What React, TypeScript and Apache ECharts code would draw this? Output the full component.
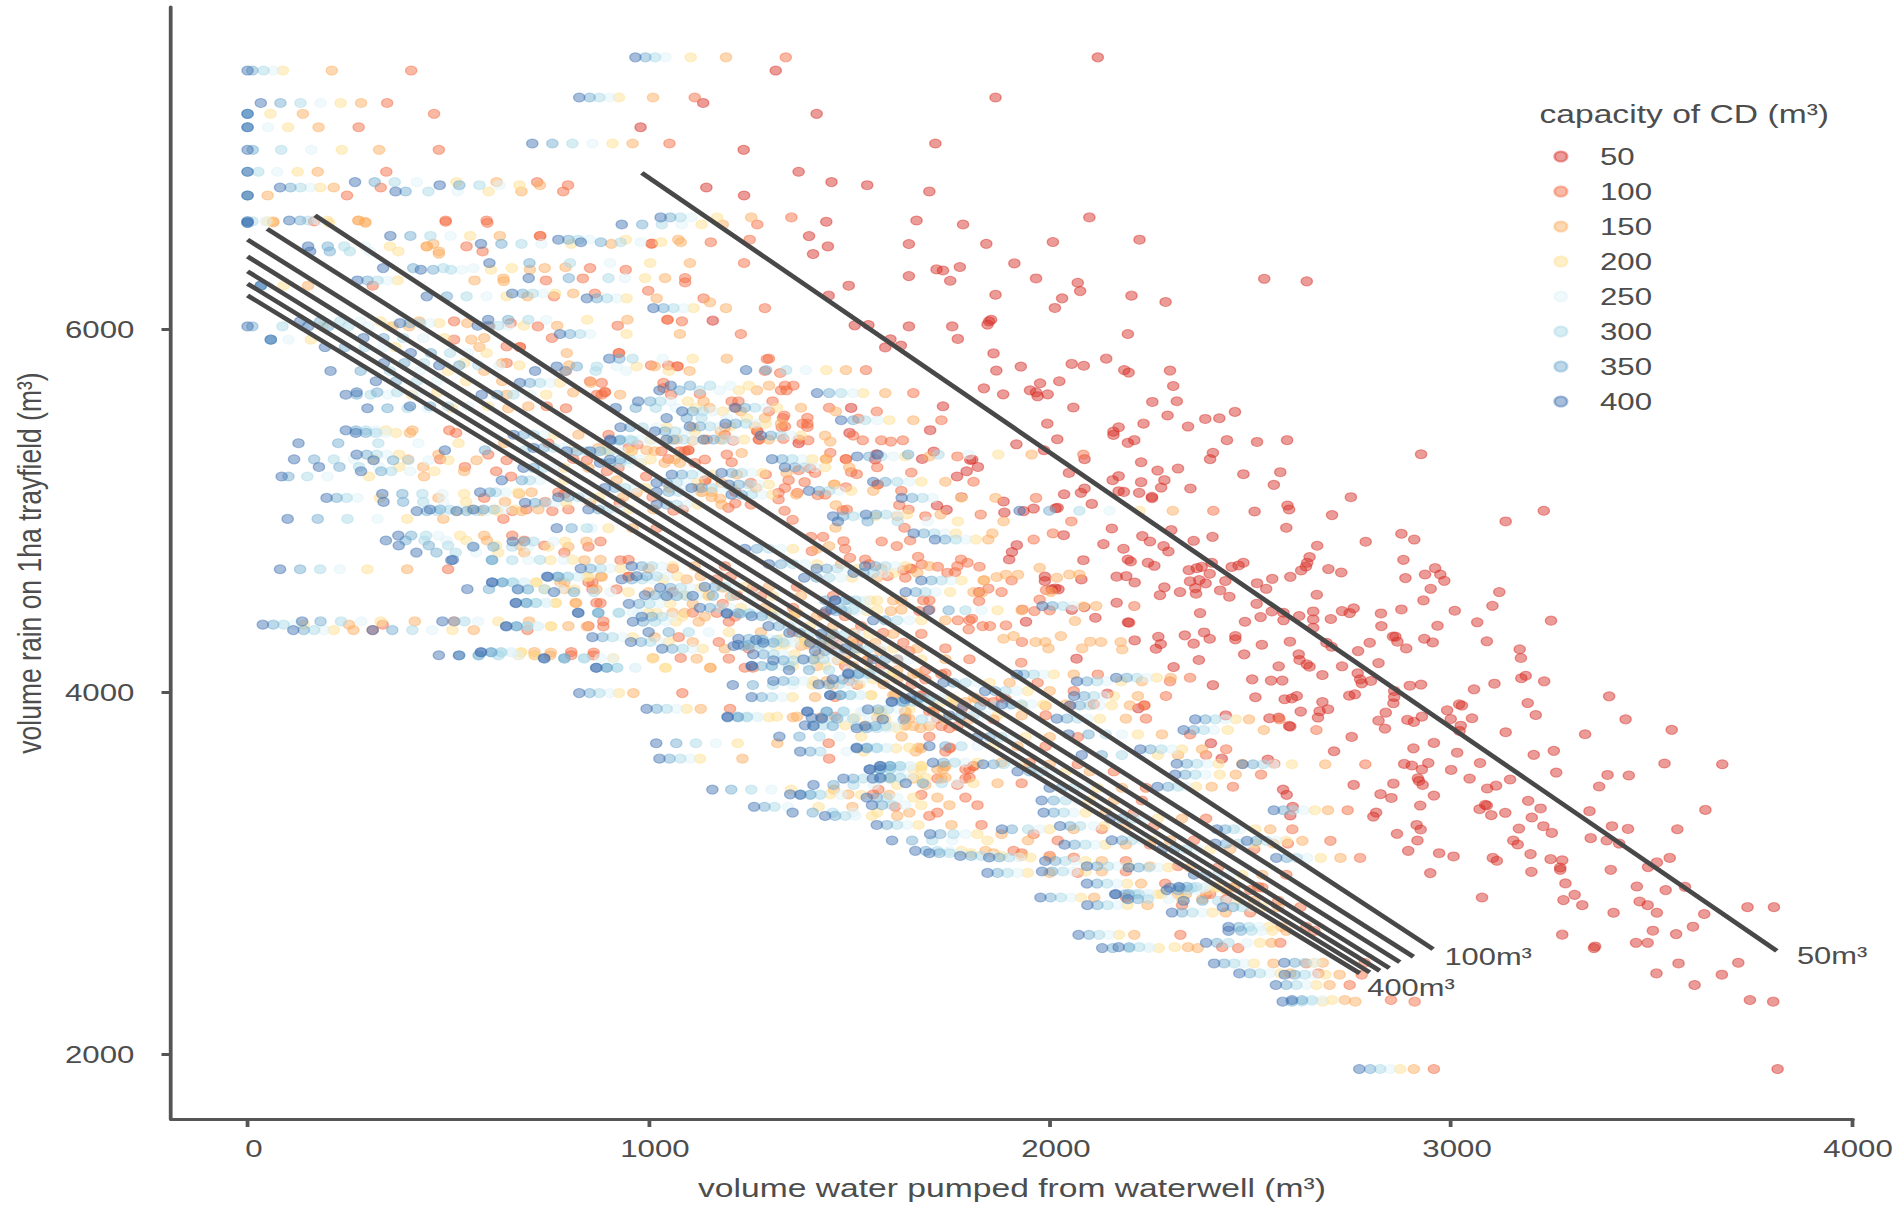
import React, { useEffect, useRef } from "react";
import * as echarts from "echarts";

const capacities = ["50", "100", "150", "200", "250", "300", "350", "400"];
const colors = ["#d73027", "#f46d43", "#fdae61", "#fee090", "#e0f3f8", "#abd9e9", "#74add1", "#4575b4"];
const xTicks = [0, 1000, 2000, 3000, 4000];
const yTicks = [2000, 4000, 6000];

// Each row: [rain volume, pumped volume for 400, 350, 300, 250, 200, 150, 100 m3]
const rowsUpper: number[][] = [
  [7504,967,992,1016,1042,1105,1193,1342],[7431,0,12,40,64,88,210,408],[7282,827,853,877,903,926,1011,1115],
  [7252,33,82,132,182,232,283,348],[7192,0,0,0,0,57,138,465],[7118,0,0,0,51,101,177,277],[7028,710,760,810,860,910,960,1052],
  [6993,0,13,84,159,235,328,477],[6872,0,0,27,74,125,175,346],[6815,268,317,367,422,521,621,722],[6798,479,528,578,628,678,729,799],
  [6785,81,107,132,157,181,215,332],[6763,369,394,451,524,601,683,787],[6741,0,0,0,0,0,50,248],[6620,1030,1054,1079,1107,1171,1256,1356],
  [6598,0,0,12,45,50,64,166],[6603,104,131,151,176,199,277,494],[6590,0,0,0,0,203,294,598],[6581,933,984,1033,1083,1132,1185,1271],
  [6518,356,406,456,506,555,629,730],[6497,775,800,825,852,943,1074,1252],[6483,831,881,930,980,1031,1080,1155],[6474,582,633,683,733,807,907,1007],
  [6460,151,200,241,293,355,447,546],[6432,156,205,255,305,376,477,586],[6368,603,703,804,904,1004,1103,1238],[6340,338,413,488,563,659,741,854],
  [6331,432,463,507,534,607,704,943],[6285,701,801,900,941,991,1041,1091],[6272,274,299,324,349,374,566,744],[6200,660,686,711,736,767,812,866],
  [6184,447,497,546,596,646,698,764],[6173,846,871,896,920,945,1020,1137],[6119,1012,1037,1062,1087,1112,1193,1290],[6243,33,33,33,50,90,151,312],
  [6046,131,181,231,281,331,428,515],[6018,151,201,251,301,352,403,603],[6036,380,405,430,455,478,548,656],[6018,0,12,87,137,187,362,724],
  [6055,600,650,700,745,847,947,1047],[6022,574,600,625,650,689,772,923],[5976,779,804,829,854,945,1078,1230],[5945,58,58,58,102,158,558,515],
  [5904,193,243,293,339,368,578,679],[5954,289,339,388,438,491,590,759],[5871,407,457,505,550,596,796,926],[5816,340,391,440,490,540,635,646],
  [5803,478,528,575,628,678,802,1006],[5772,207,282,355,430,500,590,794],[5772,717,792,868,944,1050,1102,1290],[5797,771,821,871,921,970,1015,1072],
  [5840,902,927,960,1035,1110,1195,1300],[5706,679,704,729,754,779,856,1037],[5715,320,370,422,472,545,635,854],[5641,245,272,307,350,410,646,883],
  [5654,272,323,373,423,473,812,891],[5641,584,622,663,705,745,929,1056],[5566,299,349,399,449,510,650,794],[5577,405,455,500,550,600,700,746],
  [5604,974,1004,1029,1054,1098,1137,1207],[5568,918,968,1018,1068,1118,1152,1218],[5691,1055,1103,1153,1203,1250,1300,1340],[5665,1027,1077,1127,1177,1225,1270,1330],
];

const rowsMiddle: number[][] = [
  [5512,1045,1095,1132,1195,1245,1290,1335],[5549,1084,1110,1135,1160,1185,1230,1300],[5481,1192,1217,1242,1267,1292,1330,1396],[5461,930,954,985,1020,1045,1110,1190],
  [5439,1016,1041,1066,1090,1115,1180,1271],[5387,905,927,960,1005,1050,1110,1211],[5393,1045,1062,1087,1112,1137,1180,1275],[5444,245,270,295,320,345,411,503],
  [5430,270,295,320,345,370,405,520],[5373,127,226,326,426,526,640,750],[5284,116,166,215,265,315,400,480],[5310,272,297,322,347,378,476,600],
  [5242,178,229,278,328,378,438,542],[5279,314,363,401,451,501,571,646],[5189,85,102,149,199,303,440,657],[5218,283,333,358,405,466,540,620],
  [5334,492,592,692,792,890,995,1099],[5168,634,684,704,729,790,920,1141],[5071,197,222,247,274,330,476,590],[5093,336,386,436,486,540,677,790],
  [5049,339,388,438,488,545,642,742],[5102,580,604,619,644,675,708,775],[5104,1020,1050,1075,1105,1130,1157,1216],[5285,1308,1333,1358,1383,1408,1443,1492],
  [5310,1571,1647,1723,1798,1872,1955,2084],[5071,1631,1657,1683,1708,1779,1865,1966],[4979,1542,1567,1592,1620,1644,1728,1828],[4941,1472,1546,1621,1696,1771,1885,2054],
  [4875,1661,1686,1712,1738,1766,1857,2008],[4841,1714,1739,1766,1791,1816,1847,1960],[4474,1982,2007,2033,2058,2083,2116,2211],[5000,1925,1999,2074,2149,2224,2307,2408],
  [5777,1243,1293,1343,1392,1443,1492,1542],[5145,1200,1225,1250,1275,1300,1463,1571],[4955,100,175,249,324,398,488,638],[4863,376,408,445,476,530,590,660],
  [4836,345,394,441,496,546,597,690],[4808,377,452,500,560,620,680,740],[4769,421,471,519,570,625,690,790],[4727,508,610,660,700,755,840,930],
  [4677,81,131,181,230,299,398,500],[4567,548,602,675,699,741,790,860],[4605,610,636,662,690,720,780,850],[4490,669,695,719,745,768,819,880],
  [4635,749,775,799,825,849,883,950],[4436,825,875,925,975,1020,1090,1170],[4371,38,64,90,116,140,253,337],[4389,136,182,233,283,332,417,515],
  [4341,114,140,166,190,215,264,312],[4341,312,361,411,460,511,564,698],[4389,486,515,541,575,625,702,887],[4361,645,671,697,725,757,846,887],
  [4202,477,528,577,627,677,716,807],[4217,582,608,633,659,682,756,863],[4187,739,790,839,880,912,1011,1080],[4133,870,895,922,967,1042,1154,1240],
  [3993,827,853,877,903,926,962,1084],[3906,995,1020,1045,1070,1095,1130,1203],[3716,1019,1069,1118,1168,1222,1321,1449],[3631,1027,1052,1079,1104,1128,1234,1450],
  [4904,771,808,846,858,900,960,1020],[4830,661,690,713,763,792,845,880],[4801,563,613,660,700,750,800,850],[4729,512,609,729,788,811,880,950],
  [4681,831,855,880,905,930,1000,1060],[4637,747,773,798,823,847,881,950],[4604,610,635,660,690,720,790,860],[4566,674,699,740,780,815,870,920],
  [4551,764,814,864,905,950,1000,1060],[4492,669,695,719,744,769,818,870],[4437,824,874,927,960,1000,1060,1110],[4363,645,670,698,723,756,800,850],
  [4302,860,885,910,935,960,1015,1075],[4275,956,981,1004,1028,1050,1110,1175],[4238,1034,1059,1085,1110,1135,1190,1250],[4534,991,1016,1040,1065,1090,1150,1220],
  [4220,582,607,632,657,682,715,807],[4201,527,576,625,675,717,754,862],[4183,740,790,840,911,1010,1120,1200],[4133,869,896,921,967,1042,1154,1260],
];

const rowsLower: number[][] = [
  [4038,1210,1260,1310,1360,1409,1459,1520],[3971,1257,1282,1307,1334,1359,1415,1465],[3863,1197,1222,1245,1270,1320,1370,1465],[4060,1311,1336,1361,1386,1411,1444,1500],
  [3753,1326,1376,1426,1476,1530,1631,1700],[3892,1396,1444,1486,1530,1580,1640,1700],[3815,1390,1411,1436,1461,1490,1540,1640],[3857,1407,1432,1457,1485,1515,1570,1640],
  [3692,1519,1544,1569,1594,1650,1673,1752],[3670,1378,1403,1428,1494,1536,1666,1740],[3572,1552,1577,1602,1627,1679,1734,1800],[3521,1559,1577,1602,1631,1670,1730,1790],
  [3521,1486,1510,1535,1560,1600,1660,1720],[3486,1411,1461,1511,1561,1620,1690,1770],[3495,1641,1684,1731,1770,1810,1870,1930],[3460,1159,1206,1256,1306,1355,1462,1573],
  [3365,1263,1289,1314,1347,1424,1508,1615],[3434,1353,1379,1405,1429,1453,1498,1560],[3333,1359,1409,1459,1510,1570,1650,1720],[3416,1544,1569,1594,1620,1660,1720,1790],
  [3374,1557,1582,1607,1640,1680,1750,1820],[2658,2072,2098,2123,2148,2173,2211,2326],[2585,2131,2157,2198,2247,2272,2369,2470],[2590,2172,2198,2223,2248,2312,2345,2430],
  [2864,1977,2002,2028,2053,2078,2111,2190],[2822,2094,2119,2144,2169,2194,2244,2330],[2941,2093,2118,2143,2168,2193,2228,2288],[3000,1845,1870,1895,1920,1945,2000,2070],
  [3008,1981,2006,2033,2060,2090,2130,2190],[2883,2165,2197,2222,2250,2280,2340,2400],[2855,2195,2220,2245,2297,2330,2380,2440],[2781,2305,2330,2356,2381,2406,2439,2500],
  [2905,2292,2320,2345,2370,2395,2440,2500],[2923,2322,2342,2365,2390,2415,2460,2520],[2846,2334,2381,2420,2445,2470,2510,2570],[2811,2432,2457,2480,2505,2530,2570,2625],
  [2702,2446,2472,2497,2522,2547,2578,2640],[2680,2446,2477,2503,2528,2555,2590,2660],[2614,2390,2417,2446,2492,2524,2553,2575],[2500,2410,2435,2460,2485,2509,2558,2640],
  [2445,2473,2499,2524,2548,2575,2600,2670],[3346,2559,2583,2607,2633,2661,2694,2743],[3083,2565,2591,2616,2642,2676,2725,2774],[2504,2585,2611,2636,2661,2660,2681,2785],
  [2438,2586,2611,2636,2660,2687,2723,2778],[2381,2564,2590,2615,2640,2665,2698,2748],[2298,2604,2629,2654,2679,2704,2736,2851],[2289,2581,2604,2629,2654,2681,2762,2910],
  [1917,2772,2799,2824,2849,2874,2908,2958],[4078,2166,2192,2217,2242,2267,2302,2350],[3848,2363,2388,2413,2438,2464,2497,2573],[3789,2334,2359,2384,2409,2444,2534,2665],
  [3603,2317,2342,2367,2392,2421,2480,2560],[3600,2481,2507,2532,2557,2604,2687,2787],[3543,2313,2338,2363,2388,2424,2464,2527],[3476,2269,2295,2320,2340,2365,2404,2457],
  [3241,2417,2438,2459,2475,2513,2550,2605],[3162,2413,2440,2470,2492,2513,2558,2594],[3177,2492,2515,2540,2565,2590,2630,2700],[3030,2197,2222,2247,2270,2296,2350,2420],
  [2882,2163,2188,2213,2240,2270,2320,2390],[2919,2300,2325,2355,2385,2415,2460,2530],[4058,2068,2093,2118,2143,2178,2230,2300],[3977,2061,2086,2110,2135,2160,2220,2290],
  [3852,2018,2043,2070,2095,2125,2190,2240],[3683,2226,2251,2278,2305,2330,2380,2440],[3651,2080,2130,2180,2225,2270,2320,2390],[3609,1709,1735,1763,1790,1820,1880,1950],
  [3600,1834,1860,1885,1912,1940,2000,2070],[3590,1578,1602,1627,1652,1680,1740,1810],[3572,1551,1577,1602,1627,1660,1720,1790],[3526,1578,1602,1627,1652,1690,1740,1800],
  [3431,1378,1403,1428,1480,1530,1600,1680],[3315,1440,1465,1490,1515,1557,1620,1700],[3265,1569,1594,1619,1644,1673,1755,1830],[3333,1985,2010,2035,2060,2090,2140,2210],
  [3259,2026,2051,2076,2110,2136,2190,2260],[3241,1881,1906,1946,1975,2000,2060,2130],[3214,1702,1727,1760,1790,1820,1880,1960],[3179,1607,1657,1707,1757,1845,1946,2020],
  [3122,1665,1691,1720,1750,1780,1840,1910],[3109,1700,1725,1750,1777,1804,1860,1930],[3094,1777,1804,1829,1855,1880,1930,2000],[3085,1849,1874,1899,1924,1952,2000,2060],
  [3066,1989,2014,2039,2064,2089,2130,2190],[3156,2037,2062,2089,2114,2139,2190,2250],[3180,2155,2180,2205,2230,2255,2300,2360],[3037,2093,2118,2145,2170,2197,2250,2320],
];

const rowsBand: number[][] = [
  [4435,1195,1223,1251,1284,1315,1370,1440],[3859,1197,1223,1245,1273,1300,1360,1430],[4287,1268,1284,1320,1350,1380,1440,1510],[4260,1223,1250,1280,1310,1340,1400,1470],
  [4144,1257,1307,1350,1400,1440,1510,1580],[3982,1453,1478,1503,1528,1555,1610,1680],[3890,1396,1444,1486,1536,1572,1640,1710],[3903,1547,1572,1596,1625,1650,1710,1780],
  [3811,1411,1459,1519,1565,1600,1660,1730],[3852,1432,1470,1510,1550,1590,1650,1720],[3848,1584,1636,1681,1706,1740,1800,1860],[4102,1498,1523,1550,1580,1610,1670,1740],
  [3944,1607,1637,1670,1700,1730,1790,1860],[4050,1735,1760,1790,1820,1850,1900,1970],[4004,1839,1864,1890,1918,1945,2000,2060],[4096,1918,1935,1960,1985,2010,2060,2120],
  [3931,1881,1905,1930,1955,1985,2040,2110],[3922,1785,1827,1860,1895,1930,1990,2050],[3925,2051,2075,2100,2125,2155,2200,2236],[3765,2047,2097,2140,2180,2220,2280,2350],
  [3688,1519,1544,1569,1592,1617,1680,1750],[4454,1456,1480,1510,1540,1570,1630,1700],[4505,1465,1490,1515,1540,1570,1630,1700],[4630,1388,1419,1450,1480,1507,1570,1640],
  [4694,1540,1565,1590,1616,1640,1700,1770],[4551,1641,1666,1690,1715,1752,1810,1880],[4450,1698,1748,1790,1830,1870,1930,2000],[4395,1560,1590,1620,1650,1680,1740,1800],
  [5569,1215,1240,1265,1290,1320,1380,1450],[5415,1280,1305,1330,1355,1380,1440,1510],[5240,1340,1365,1390,1415,1440,1500,1570],[5110,1400,1425,1450,1475,1505,1560,1630],
  [4970,1460,1485,1510,1535,1565,1620,1690],[4790,1240,1270,1300,1330,1360,1420,1490],[4705,1300,1330,1360,1390,1420,1480,1550],[4580,1140,1165,1190,1215,1240,1300,1370],
  [4530,1110,1160,1210,1260,1310,1380,1460],[4330,1000,1050,1100,1150,1200,1280,1360],[4320,1430,1460,1490,1520,1550,1610,1680],[4240,1490,1520,1550,1580,1610,1670,1740],
  [4180,1560,1590,1620,1650,1680,1740,1800],[4120,1350,1400,1450,1500,1550,1620,1690],[3960,1640,1670,1700,1730,1760,1820,1890],[3870,1750,1780,1810,1840,1870,1930,1990],
  [3750,1820,1850,1880,1910,1940,2000,2070],[3700,1700,1740,1780,1820,1860,1920,1990],[3560,1920,1950,1980,2010,2040,2100,2160],[3470,2000,2030,2060,2090,2120,2180,2240],
  [3400,1980,2010,2040,2070,2100,2160,2230],[3300,2150,2180,2210,2240,2270,2330,2390],[3130,2280,2310,2340,2370,2400,2450,2510],[2990,2360,2390,2420,2450,2480,2530,2590],
  [5650,1420,1450,1480,1510,1535,1590,1660],[5500,1480,1510,1540,1570,1600,1660,1730],[5300,1520,1550,1580,1610,1640,1700,1770],[5160,1560,1590,1620,1650,1680,1740,1810],
];

const rowsDense: number[][] = [
  [4694,958,983,1008,1033,1060,1115,1190],[4639,970,995,1020,1046,1072,1130,1205],[4621,933,958,984,1010,1036,1095,1170],[4575,1029,1054,1080,1105,1130,1185,1260],
  [4529,1045,1070,1095,1120,1148,1205,1280],[4486,951,976,1002,1028,1054,1110,1185],[4415,983,1008,1033,1058,1084,1140,1215],[4387,961,986,1016,1042,1068,1125,1200],
  [4464,1128,1153,1178,1203,1230,1290,1360],[4431,1195,1228,1253,1278,1305,1365,1435],[4418,1257,1282,1307,1332,1360,1420,1490],[4363,1299,1324,1350,1376,1402,1460,1530],
  [4326,1351,1376,1402,1428,1454,1512,1585],[4293,1224,1250,1276,1302,1330,1390,1460],[4271,1286,1311,1336,1361,1390,1450,1520],[4271,1403,1428,1453,1478,1505,1565,1635],
  [4225,1415,1440,1465,1490,1518,1578,1650],[4253,1212,1238,1264,1290,1318,1380,1450],[4207,1261,1286,1311,1336,1364,1424,1495],[4174,1311,1336,1361,1386,1413,1472,1545],
  [4142,1257,1282,1307,1332,1360,1420,1490],[4179,1386,1411,1436,1461,1488,1548,1620],[4505,1465,1441,1500,1525,1552,1610,1685],[4446,1442,1467,1492,1517,1544,1604,1675],
  [4657,1511,1536,1561,1586,1612,1670,1745],[4681,1419,1444,1470,1496,1522,1580,1655],[4615,1680,1705,1730,1755,1780,1835,1905],[4097,1498,1523,1548,1573,1600,1660,1730],
  [4069,1459,1484,1509,1534,1560,1620,1690],[4041,1424,1449,1474,1499,1526,1586,1656],[3946,1606,1631,1656,1681,1708,1766,1836],[3968,1652,1677,1702,1727,1754,1812,1880],
  [3981,1453,1478,1503,1528,1555,1615,1685],[3799,1519,1544,1569,1594,1620,1678,1750],[3811,1540,1565,1590,1615,1642,1700,1770],[3591,1577,1602,1627,1652,1680,1738,1810],
  [5393,904,929,954,979,1006,1070,1145],[5466,1103,1128,1153,1178,1204,1265,1340],[5393,1137,1162,1187,1212,1238,1300,1375],[5126,891,916,941,966,992,1052,1125],
  [5154,1020,1045,1070,1095,1122,1182,1255],[5200,1058,1083,1108,1133,1160,1220,1292],[5126,1107,1132,1157,1182,1208,1268,1340],[5209,1182,1207,1232,1257,1284,1344,1415],
  [5089,1207,1232,1257,1282,1308,1368,1440],[5034,1020,1045,1070,1095,1122,1182,1255],[5007,850,875,900,925,952,1012,1085],[5075,775,800,825,850,876,936,1010],
  [5044,692,717,742,767,794,854,928],[5007,563,588,613,638,665,725,800],[4998,521,546,571,596,623,683,760],[5007,455,480,505,530,557,617,695],
  [4998,422,447,472,497,524,584,660],[5283,904,929,954,979,1005,1065,1140],[5264,879,904,929,954,980,1040,1115],[5237,688,713,738,763,790,850,925],
  [5420,663,688,713,738,765,825,900],[5347,713,738,763,788,815,875,950],[5329,796,821,846,871,898,958,1032],[5329,854,879,904,929,955,1015,1090],
];

const extra150: number[][] = [
  [1467,5548],[1453,5382],[1442,5286],[1463,5145],[1467,5031],[1466,4906],[1450,4805],[1837,4617],[1868,4634],[1891,4647],[1921,4647],[1975,4685],[2018,4630],[2049,4648],[2074,4648],
  [1831,4547],[2003,4551],[2063,4391],[1965,4275],[1989,4275],[2028,4308],[2101,4277],[2128,4275],[2177,4275],[2181,4234],[1997,4240],[2081,4240],[1885,4293],[1910,4308],
  [276,6603],[293,6596],[64,6592],[463,6474],[447,6460],[477,6419],[793,6345],[638,6283],[639,6268],[1153,6151],[1232,5319],[1078,5264],[1157,5075],[1178,5067],[970,5099],
];
const extra100: number[][] = [
  [1295,5838],[1328,5761],[1361,5691],[1344,5665],[1309,5605],[1338,5526],[1569,5548],[1523,5509],[1396,5513],[1384,5481],[1396,5463],[1332,5461],[1271,5439],[1336,5397],[1398,5389],
  [1275,5393],[1534,5389],[1580,5389],[1604,5382],[1634,5389],[1453,5320],[1492,5286],[1403,5233],[1374,5224],[1505,5213],[1519,5202],[1655,5211],[1571,5145],[1492,5130],[1389,5158],
  [1349,5169],[1422,5086],[1371,5099],[1324,5099],[1324,5062],[1484,5003],[1494,5007],[1339,5000],[1359,4950],[1405,4856],[1435,4856],[1486,4832],[1581,4830],[1619,4805],[1638,4906],
  [1652,4836],[1625,5031],[1648,5007],[1672,4746],[1681,4704],[1721,4691],[1779,4731],[1795,4713],[1825,4691],[1764,4661],[1635,4672],[1652,4680],[1596,4639],[1540,4731],[1502,4740],
  [1407,4777],[1847,4570],[1991,4562],[1824,4501],[1975,4510],[1932,4455],[1962,4446],[1771,4395],[1798,4345],[1806,4404],[1833,4363],[1851,4363],[1891,4367],[1931,4275],[1929,4161],
  [494,6596],[596,6603],[729,6517],[1008,6476],[836,6283],[1091,6261],[999,6215],[1083,6046],[1047,6055],[646,5908],[679,5904],[926,5871],[1049,5803],[1072,5798],[883,5706],[891,5656],
  [871,5641],[1037,5678],[1128,5645],[1224,5604],[1190,5420],[972,5365],[1099,5334],[1078,5329],[1049,5286],[1195,5310],[1207,5268],[994,5190],[896,5218],[846,5279],[812,5286],[1141,5167],
  [1132,5104],[1216,5040],[1199,5016],[1062,5000],[2236,3925],
];

const cap50: number[][] = [
  [2120,7504],[1317,7431],[1865,7282],[1136,7252],[1419,7192],[980,7118],[1715,7028],[1237,6993],[1374,6872],[1456,6815],[1545,6798],[1144,6785],[1700,6763],[1238,6741],[2099,6620],[1668,6603],
  [1443,6596],[1784,6581],[1400,6517],[2224,6497],[2008,6484],[1842,6474],[1649,6473],[1447,6460],[1410,6418],[1912,6366],[1718,6333],[1734,6327],[1776,6346],[1966,6283],[1649,6296],[1752,6270],
  [2070,6259],[2076,6213],[2535,6281],[2641,6267],[1499,6243],[1865,6193],[2204,6188],[2031,6173],[2289,6153],[2013,6120],[1449,6188],[1160,6050],[1548,6026],[1649,6018],[1514,6024],[1757,6018],
  [1849,6046],[1854,6055],[1845,6028],[2195,5976],[1771,5949],[1603,5947],[1629,5912],[1590,5902],[1860,5869],[2141,5840],[2055,5811],[2085,5801],[1928,5796],[1867,5774],[2186,5777],[2197,5763],
  [2300,5774],[1976,5704],[2024,5715],[2308,5689],[1836,5676],[1951,5665],[1966,5654],[1970,5632],[1995,5643],[1884,5643],[2317,5605],[2256,5601],[1734,5577],[2059,5570],[2294,5526],[2388,5507],
  [2423,5511],[2462,5546],[1505,5568],[2345,5465],[2234,5481],[2172,5461],[2159,5437],[2159,5419],[1994,5481],[2211,5390],[2195,5375],[2019,5395],[1917,5367],[1702,5445],[1501,5430],[2442,5390],
  [2517,5380],[2592,5390],[2926,5312],[2407,5320],[2400,5285],[2087,5285],[2228,5268],[2269,5222],[2320,5233],[2483,5202],[2575,5213],[2048,5209],[2172,5191],[2157,5169],[2228,5158],[2286,5169],
  [2559,5143],[2278,5128],[2351,5123],[2223,5099],[2172,5108],[2185,5104],[2087,5123],[2078,5099],[2036,5091],[2255,5077],[2255,5070],[2751,5075],[1986,5334],[1568,5312],[1565,5283],[1711,5327],
  [1682,5286],[1802,5281],[1807,5283],[1821,5242],[1793,5218],[1769,5189],[1780,5075],[1374,5373],
  [2593,5029],[2597,5007],[2511,4996],[2704,4976],[3232,5000],[3137,4941],[2590,4906],[2877,4873],[2909,4841],[2788,4829],[2667,4807],[2648,4744],[2642,4713],[2639,4692],[2627,4670],[2882,4729],
  [2695,4678],[2727,4659],[2600,4635],[2555,4624],[2517,4600],[2540,4569],[2936,4648],[2961,4683],[2974,4648],[2984,4613],[2887,4628],[2950,4569],[3121,4551],[2932,4505],[2666,4536],[3104,4475],
  [2516,4486],[3010,4448],[2877,4455],[2758,4461],[2729,4446],[2748,4435],[2826,4433],[2554,4444],[2583,4437],[2657,4444],[2622,4419],[2526,4413],[2583,4395],[2657,4400],[2701,4402],[3066,4384],
  [3250,4393],[2827,4363],[2967,4365],[2657,4354],[2856,4305],[2862,4305],[2867,4277],[2934,4293],[2955,4273],[3090,4279],[2889,4240],[2599,4277],[2529,4260],[2798,4271],[2690,4271],[2703,4249],
  [2769,4225],[3172,4235],[3175,4187],[2621,4207],[2623,4176],[2820,4159],[2641,4152],[2648,4139],[2571,4141],[2729,4141],[2680,4093],[2768,4102],[2774,4069],[2778,4047],[2801,4060],[2552,4062],
  [2580,4062],[2505,4069],[3187,4089],[3176,4075],[3233,4058],[3109,4045],[3058,4014],[2898,4034],[2926,4040],[2859,4005],[2859,3972],[2857,3937],[3395,3975],[2513,3970],[2586,3959],[2604,3964],
  [2616,3977],[2747,3979],[2761,3986],[2680,3944],[3192,3938],[3021,3931],[3028,3924],[2991,3898],[2694,3904],[2673,3893],[2626,3891],[2838,3885],[3212,3872],[3053,3854],[3000,3850],[2928,3863],
  [2892,3845],[2908,3834],[2820,3841],[2669,3858],[2548,3854],[2571,3858],[3436,3848],[2597,3812],[2600,3808],[3025,3813],[2836,3797],[3022,3784],[3137,3777],[3551,3790],[2753,3751],[3335,3766],
  [2709,3672],[2958,3718],[2907,3688],[3016,3664],[3257,3674],[3207,3652],[2544,3626],[2944,3607],[3073,3607],[2884,3602],[2903,3593],[2928,3571],[3001,3569],[3263,3554],[3533,3604],[3677,3600],
  [3391,3541],[3444,3538],[2918,3523],[2921,3508],[2930,3486],[3047,3521],[3148,3516],[2857,3493],[2758,3486],[3113,3482],[3091,3466],[3370,3477],[2582,3460],[2591,3431],[2825,3435],[2852,3414],
  [2958,3427],[3193,3398],[3086,3376],[3090,3372],[3072,3352],[2924,3372],[2606,3365],[3224,3356],[3635,3348],[3346,3341],[2814,3333],[3101,3319],[3136,3332],[3202,3306],[2807,3311],[2600,3317],
  [2915,3265],[2925,3240],[2866,3216],[2917,3179],[2894,3122],[2971,3109],[3007,3091],[2949,2999],[3105,3083],[3115,3067],[3078,2864],[3170,3245],[3231,3258],[3252,3221],[3156,3179],[3167,3157],
  [3199,3104],[3249,3076],[3278,3070],[3273,3030],[3273,3017],[3201,3006],[3286,2942],[3309,2879],[3281,2850],[3328,2822],[3278,2659],[3360,2594],[3357,2585],[3349,3192],[3389,3179],[3420,3162],
  [3402,3258],[3442,3243],[3565,3241],[3399,3017],[3492,3032],[3514,3058],[3546,3083],[3464,2925],[3536,2905],[3584,2923],[3471,2842],[3491,2822],[3514,2780],[3406,2780],[3740,2811],[3806,2811],
  [3632,2773],[3604,2703],[3504,2681],[3562,2662],[3462,2614],[3491,2614],[3568,2500],[3717,2504],[3513,2445],[3676,2438],[3608,2381],[3746,2298],[3804,2289],[3815,1917],
  [1887,4990],[2105,5038],[2015,5014],[2020,5016],[1960,5012],[1935,4998],[1885,5051],[1719,5029],[1743,5005],[2155,4902],[2303,4893],[2231,4860],[2250,4830],[2359,4834],[2406,4856],[2284,4805],
  [2296,4775],[2134,4816],[2184,4790],[2035,4865],[1918,4810],[1906,4772],[1899,4731],[2084,4727],[2195,4731],[2202,4720],[2245,4713],[2261,4696],[2347,4672],[2367,4683],[2379,4690],[2404,4713],
  [2454,4690],[2471,4698],[2483,4713],[2399,4652],[2350,4610],[2373,4617],[2389,4599],[2438,4612],[2167,4636],[2191,4639],[2212,4604],[1988,4636],[1988,4612],[2079,4621],[2014,4571],[2005,4566],
  [2022,4566],[2286,4577],[2363,4573],[2365,4542],[2425,4560],[2448,4525],[2325,4551],[2275,4534],[2167,4492],[2055,4453],[2086,4468],[2375,4435],[2114,4409],[2195,4384],[2198,4382],[1941,4387],
  [2487,4387],[2271,4304],[2277,4264],[2265,4238],[2337,4312],[2385,4328],[2399,4293],[2359,4266],[2463,4308],[2463,4290],[2212,4284],[2485,4207],[2067,4183],[2372,4176],[2309,4137],[1824,4551],
  [2407,4037],[2429,3631],[2402,3716],[2221,3909],[2439,3870],[2144,3990],
];

const allRows = [...rowsUpper, ...rowsMiddle, ...rowsLower, ...rowsBand, ...rowsDense];
const column = (i: number) => allRows.map((r) => [r[i], r[0]]);
const cap100 = [...column(7), ...extra100];
const cap150 = [...column(6), ...extra150];
const cap200 = column(5);
const cap250 = column(4);
const cap300 = column(3);
const cap350 = column(2);
const cap400 = column(1);
const pointSets = [cap50, cap100, cap150, cap200, cap250, cap300, cap350, cap400];

// Threshold lines: [start x, start y, end x, end y]
const thresholdLines: number[][] = [
  [983, 6866, 3813, 2570],
  [168, 6631, 2956, 2579],
  [49, 6557, 2907, 2537],
  [0, 6497, 2873, 2507],
  [0, 6404, 2847, 2474],
  [0, 6322, 2823, 2460],
  [0, 6254, 2798, 2451],
  [0, 6189, 2773, 2446],
];
const lineLabels: Record<number, { text: string; offset: number[] }> = {
  0: { text: "50m³", offset: [8, 5] },
  1: { text: "100m³", offset: [1, 7] },
  7: { text: "400m³", offset: [-2, 14] },
};

const FONT = "Liberation Sans";
const INK = "#4d4d4d";
const W = 1509;
const H = 1206;

const hexA = (hex: string, a: number) => {
  const n = parseInt(hex.slice(1), 16);
  return `rgba(${n >> 16},${(n >> 8) & 255},${n & 255},${a})`;
};

export default function App() {
  const ref = useRef<HTMLDivElement>(null);
  useEffect(() => {
    document.body.style.margin = "0";
    document.body.style.overflow = "hidden";
    const chart = echarts.init(ref.current!, undefined, { renderer: "svg" });
    const scatter = capacities.map((name, i) => ({
      name,
      type: "scatter",
      data: pointSets[i],
      symbol: "circle",
      symbolSize: 9,
      z: 2,
      itemStyle: { color: hexA(colors[i], 0.6), borderColor: hexA(colors[i], 0.6), borderWidth: 1 },
    }));
    const lines = thresholdLines.map((l, i) => ({
      type: "line",
      data: [[l[0], l[1]], [l[2], l[3]]],
      showSymbol: false,
      symbol: "none",
      silent: true,
      z: 5,
      lineStyle: { color: "#484848", width: 4.3 },
      endLabel: lineLabels[i]
        ? {
            show: true,
            formatter: lineLabels[i].text,
            offset: lineLabels[i].offset,
            color: INK,
            fontFamily: FONT,
            fontSize: 24.5,
          }
        : undefined,
    }));
    chart.setOption({
      animation: false,
      backgroundColor: "#ffffff",
      grid: { left: 135.7, right: 38.1, top: 7, bottom: 86, containLabel: false },
      legend: {
        data: capacities,
        orient: "vertical",
        left: 1228,
        top: 139,
        icon: "circle",
        itemWidth: 10,
        itemHeight: 10,
        itemGap: 10,
        selectedMode: false,
        textStyle: { color: INK, fontFamily: FONT, fontSize: 24.8, lineHeight: 24, padding: [0, 0, 0, 21] },
      },
      graphic: [
        {
          type: "text",
          left: 1222,
          top: 100,
          style: { text: "capacity of CD (m³)", fill: INK, font: `26.7px "${FONT}"` },
        },
      ],
      xAxis: {
        type: "value",
        min: -191,
        max: 4003,
        splitLine: { show: false },
        axisLine: { onZero: false, lineStyle: { color: "#555555", width: 3 } },
        axisTick: { show: true, length: 8, customValues: xTicks, lineStyle: { color: "#555555", width: 3 } },
        axisLabel: { customValues: xTicks, formatter: (v: number) => String(v), color: INK, fontFamily: FONT, fontSize: 24.8, margin: 17, padding: [0, 0, 0, 10] },
        name: "volume water pumped from waterwell (m³)",
        nameLocation: "middle",
        nameGap: 55,
        nameTextStyle: { color: INK, fontFamily: FONT, fontSize: 26.7 },
      },
      yAxis: {
        type: "value",
        min: 1641,
        max: 7782,
        splitLine: { show: false },
        axisLine: { onZero: false, lineStyle: { color: "#555555", width: 3 } },
        axisTick: { show: true, length: 7.5, customValues: yTicks, lineStyle: { color: "#555555", width: 3 } },
        axisLabel: { customValues: yTicks, formatter: (v: number) => String(v), color: INK, fontFamily: FONT, fontSize: 24.8, margin: 29 },
        name: "volume rain on 1ha trayfield (m³)",
        nameLocation: "middle",
        nameGap: 99,
        nameTextStyle: { color: INK, fontFamily: FONT, fontSize: 26.5 },
      },
      series: [...scatter, ...lines],
    });
    return () => chart.dispose();
  }, []);
  return (
    <div
      ref={ref}
      style={{
        position: "absolute",
        left: 0,
        top: 0,
        width: W,
        height: H,
        transform: `scaleX(${1901 / W})`,
        transformOrigin: "0 0",
      }}
    />
  );
}
